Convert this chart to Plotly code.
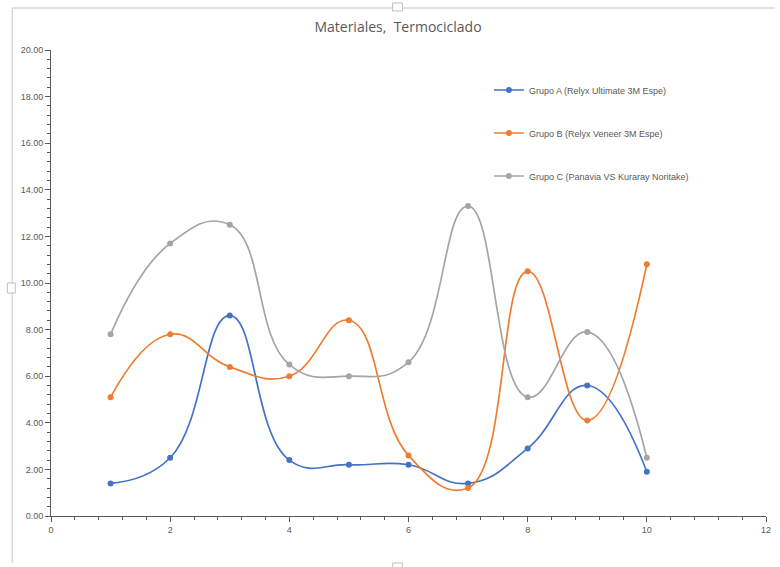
import plotly.graph_objects as go

x_vals = [1, 2, 3, 4, 5, 6, 7, 8, 9, 10]
grupo_a = [1.4, 2.5, 8.6, 2.4, 2.2, 2.2, 1.4, 2.9, 5.6, 1.9]
grupo_b = [5.1, 7.8, 6.4, 6.0, 8.4, 2.6, 1.2, 10.5, 4.1, 10.8]
grupo_c = [7.8, 11.7, 12.5, 6.5, 6.0, 6.6, 13.3, 5.1, 7.9, 2.5]
names = ["Grupo A (Relyx Ultimate 3M Espe)",
         "Grupo B (Relyx Veneer 3M Espe)",
         "Grupo C (Panavia VS Kuraray Noritake)"]
colors = ["#4472C4", "#ED7D31", "#A5A5A5"]
y_ticks = [0, 2, 4, 6, 8, 10, 12, 14, 16, 18, 20]
y_ticktext = [f"{v:.2f}" for v in y_ticks]

fig = go.Figure()
series = [grupo_a, grupo_b, grupo_c]
legends = ["legend", "legend2", "legend3"]
for ys, nm, col, lg in zip(series, names, colors, legends):
    fig.add_trace(go.Scatter(
        x=x_vals, y=ys, name=nm, mode="lines+markers",
        line=dict(color=col, width=1.7, shape="spline", smoothing=1.3),
        marker=dict(color=col, size=6),
        legend=lg,
    ))

L, R, T, B = 51, 9, 50, 51
W, H = 780, 567
pw, ph = W - L - R, H - T - B

def px_x(p):
    return (p - L) / pw

def px_y(p):
    return (H - B - p) / ph

leg_font = dict(family="Liberation Sans Narrow, Liberation Sans, Arial", size=9, color="#595959")
leg_common = dict(bgcolor="rgba(0,0,0,0)", font=leg_font, xanchor="left", yanchor="middle",
                  itemwidth=30, tracegroupgap=0)

border = "#D9D9D9"
shapes = [
    dict(type="line", xref="paper", yref="paper", x0=px_x(12), x1=px_x(780), y0=px_y(8), y1=px_y(8),
         line=dict(color=border, width=1.5)),
    dict(type="line", xref="paper", yref="paper", x0=px_x(12), x1=px_x(12), y0=px_y(8), y1=px_y(563),
         line=dict(color=border, width=1.5)),
    dict(type="rect", xref="paper", yref="paper", x0=px_x(395), x1=px_x(405), y0=px_y(3), y1=px_y(11),
         line=dict(color="#BFBFBF", width=1), fillcolor="white"),
    dict(type="rect", xref="paper", yref="paper", x0=px_x(7), x1=px_x(15), y0=px_y(283), y1=px_y(293),
         line=dict(color="#BFBFBF", width=1), fillcolor="white"),
    dict(type="rect", xref="paper", yref="paper", x0=px_x(395), x1=px_x(405), y0=px_y(563), y1=px_y(571),
         line=dict(color="#BFBFBF", width=1), fillcolor="white"),
]

fig.update_layout(
    width=W, height=H,
    margin=dict(l=L, r=R, t=T, b=B),
    paper_bgcolor="white", plot_bgcolor="white",
    font=dict(family="Open Sans, Liberation Sans, Arial", color="#595959"),
    title=dict(text="Materiales,  Termociclado", x=398 / W, xref="container", xanchor="center",
               y=1 - 27 / H, yref="container", yanchor="middle",
               font=dict(family="Open Sans, Liberation Sans, Arial", size=14, color="#595959")),
    showlegend=True,
    legend=dict(x=px_x(492), y=px_y(90), **leg_common),
    legend2=dict(x=px_x(492), y=px_y(133), **leg_common),
    legend3=dict(x=px_x(492), y=px_y(176), **leg_common),
    shapes=shapes,
    xaxis=dict(range=[0, 12], tickmode="array", tickvals=[0, 2, 4, 6, 8, 10, 12],
               showgrid=False, zeroline=False, showline=True, linecolor="#595959", linewidth=1,
               ticks="outside", ticklen=5, tickcolor="#595959",
               minor=dict(dtick=0.4, ticks="outside", ticklen=3, tickcolor="#595959"),
               tickfont=dict(family="Liberation Sans Narrow, Liberation Sans, Arial", size=9, color="#595959")),
    yaxis=dict(range=[0, 20], tickmode="array", tickvals=y_ticks, ticktext=y_ticktext,
               showgrid=False, zeroline=False, showline=True, linecolor="#595959", linewidth=1,
               ticks="outside", ticklen=5, tickcolor="#595959",
               minor=dict(dtick=0.4, ticks="outside", ticklen=3, tickcolor="#595959"),
               tickfont=dict(family="Liberation Sans Narrow, Liberation Sans, Arial", size=9, color="#595959")),
)

fig.write_html("out.html")
